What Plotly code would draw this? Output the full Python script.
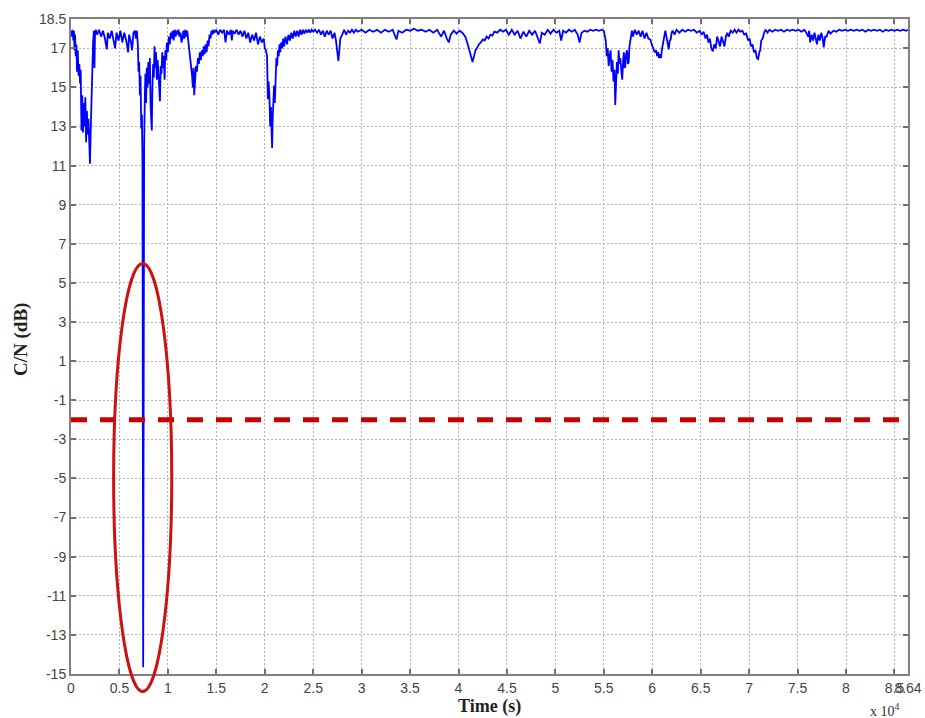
import plotly.graph_objects as go

# ---- time (x 10^4 s) and C/N (dB) samples, by segment ----
t_a = [0.000,0.008,0.016,0.024,0.030,0.036,0.042,0.048,0.056,0.062,0.070,0.078,0.086,0.094,0.100,0.108,0.116,0.124,0.132,0.140,0.148,0.156,0.164,0.172,0.180,0.188,0.196,0.204,0.212,0.220,0.228,0.236,0.242,0.248,0.256]
cn_a = [17.9,17.6,17.95,17.4,17.9,16.9,17.7,16.6,17.2,15.8,16.9,15.6,16.2,15.2,15.9,12.8,14.6,12.7,14.2,13.0,14.5,12.2,13.8,12.6,13.4,11.7,11.1,12.9,15.0,15.9,17.3,17.9,16.0,17.8,17.95]

t_b = [0.27,0.29,0.31,0.33,0.35,0.37,0.38,0.40,0.42,0.44,0.455,0.47,0.49,0.51,0.53,0.55,0.57,0.59,0.60,0.62,0.63,0.645,0.66,0.67,0.68]
cn_b = [17.7,17.95,17.6,17.9,17.5,16.95,17.8,17.5,17.9,17.4,17.0,17.8,17.4,17.9,17.3,17.8,17.4,16.8,17.7,17.3,16.9,17.8,17.9,17.5,17.9]

t_c = [0.69,0.697,0.704,0.711,0.718,0.725,0.732,0.738,0.745,0.750]
cn_c = [17.2,15.8,16.3,14.6,15.6,12.9,13.6,11.0,-14.66,8.7]

t_d = [0.755,0.762,0.768,0.775,0.782,0.790,0.798,0.806,0.814,0.822,0.828,0.834,0.840,0.848,0.855,0.862,0.870,0.878,0.886,0.894,0.902,0.910,0.918,0.926,0.934,0.942,0.950,0.958,0.966,0.974,0.982,0.990,1.000,1.010,1.020,1.030,1.040,1.050,1.060,1.070,1.080,1.090,1.100,1.110,1.120,1.130,1.140,1.150]
cn_d = [12.0,14.5,15.7,14.2,16.0,15.0,16.3,15.2,16.5,14.0,13.0,12.8,14.9,16.2,15.5,17.1,16.0,16.8,15.4,16.4,15.8,14.9,14.3,16.1,15.7,16.8,16.0,16.6,15.4,16.9,16.4,17.3,16.8,17.6,17.2,17.8,17.5,17.9,17.4,17.95,17.6,17.9,17.7,17.95,17.6,17.8,17.3,17.5]

t_e = [1.16,1.17,1.18,1.19,1.20,1.21,1.22,1.23,1.24,1.25,1.258,1.265,1.272,1.28,1.29,1.30,1.31,1.32,1.33,1.34,1.35,1.36,1.37,1.38,1.39,1.40,1.41,1.42,1.43,1.44,1.45,1.46,1.47,1.48,1.50]
cn_e = [17.9,17.5,17.95,17.6,17.9,17.4,17.0,16.6,16.0,15.6,15.0,16.0,14.6,15.4,16.1,15.8,16.5,16.2,16.8,16.4,16.9,16.6,17.1,16.7,17.2,16.8,17.4,17.1,17.7,17.5,17.9,17.7,17.95,17.8,17.95]

t_f = [1.52,1.54,1.56,1.58,1.595,1.61,1.63,1.65,1.66,1.67,1.69,1.71,1.73,1.75,1.77,1.79,1.81,1.83,1.85,1.87,1.89,1.91,1.93,1.95,1.97,1.99,2.00]
cn_f = [17.7,17.95,17.8,17.95,17.3,17.9,17.7,17.95,17.4,17.9,17.75,17.95,17.7,17.9,17.6,17.9,17.5,17.8,17.3,17.7,17.4,17.8,17.2,17.6,17.3,17.5,17.0]

t_g = [2.012,2.024,2.032,2.040,2.048,2.056,2.064,2.070,2.076,2.082,2.090,2.096,2.104,2.112,2.120,2.128,2.136,2.144,2.152,2.160,2.170,2.180,2.190,2.200,2.215,2.230,2.245,2.260,2.275,2.290,2.305,2.320,2.335,2.350,2.365,2.380,2.395,2.410,2.425,2.440,2.455,2.470,2.485,2.500,2.52,2.54,2.56,2.58,2.60,2.62,2.64,2.66,2.68,2.70,2.72,2.735,2.748,2.760,2.770,2.780,2.80,2.82,2.84,2.86,2.88,2.90,2.92,2.94]
cn_g = [16.9,16.6,14.4,15.3,14.6,13.0,14.0,12.8,11.9,13.4,14.3,15.1,14.2,15.8,16.5,16.1,16.9,16.6,17.2,16.8,17.3,17.0,17.5,17.1,17.6,17.2,17.7,17.4,17.8,17.5,17.9,17.6,17.9,17.6,17.95,17.7,17.95,17.75,17.95,17.8,17.95,17.8,17.95,17.85,17.95,17.8,17.95,17.7,17.9,17.6,17.9,17.7,17.9,17.5,17.8,17.4,16.9,16.35,16.9,17.5,17.7,17.95,17.7,17.9,17.8,17.95,17.8,17.95]

t_h = [2.96,3.00,3.04,3.08,3.12,3.16,3.20,3.24,3.28,3.32,3.36,3.38,3.42,3.46,3.50,3.54,3.58,3.62,3.66,3.70,3.74,3.78,3.82,3.85,3.88,3.90,3.92,3.95,3.98,4.01,4.04,4.07]
cn_h = [17.85,17.95,17.8,17.95,17.85,17.95,17.8,17.95,17.85,17.95,17.45,17.9,17.8,17.95,17.9,18.0,17.9,17.95,17.85,17.95,17.8,17.95,17.6,17.9,17.5,17.3,17.7,17.9,17.75,17.9,17.8,17.6]

t_i = [4.09,4.11,4.13,4.145,4.16,4.175,4.19,4.21,4.23,4.25,4.27,4.29,4.31,4.33,4.35,4.37,4.40,4.43,4.46,4.49]
cn_i = [17.3,16.9,16.6,16.3,16.6,16.9,17.0,17.2,17.3,17.45,17.4,17.6,17.5,17.7,17.65,17.85,17.8,17.95,17.85,17.95]

t_j = [4.52,4.55,4.58,4.61,4.64,4.67,4.70,4.73,4.76,4.79,4.82,4.84,4.86,4.89,4.92,4.95,4.98,5.01,5.04,5.06,5.08,5.11,5.14,5.17,5.20,5.23,5.25,5.27,5.30,5.33,5.36,5.39,5.42,5.45,5.48,5.50]
cn_j = [17.7,17.95,17.7,17.9,17.5,17.85,17.6,17.9,17.7,17.9,17.5,17.25,17.8,17.7,17.95,17.75,17.95,17.8,17.9,17.4,17.9,17.8,17.95,17.85,17.95,17.7,17.3,17.8,17.9,17.85,17.95,17.9,17.95,17.9,17.95,17.9]

t_k = [5.52,5.53,5.54,5.55,5.56,5.57,5.58,5.59,5.60,5.61,5.618,5.627,5.635,5.645,5.653,5.662,5.67,5.68,5.69,5.70,5.707,5.715,5.722,5.73,5.74,5.75,5.757,5.765,5.774,5.785,5.79,5.80,5.82,5.84,5.86,5.88,5.90,5.92]
cn_k = [17.4,16.6,17.0,16.1,16.6,16.9,15.8,16.4,15.3,15.9,14.1,15.6,16.3,15.7,16.9,16.2,16.5,15.9,15.4,16.4,16.8,16.0,16.1,16.7,16.9,16.2,16.3,17.1,17.4,17.7,17.9,17.6,17.95,17.7,17.9,17.6,17.9,17.5]

t_l = [5.94,5.96,5.98,5.995,6.01,6.025,6.04,6.05,6.06,6.07,6.08,6.09,6.10,6.11,6.12,6.135,6.15,6.16,6.17,6.18,6.19,6.20,6.21,6.23,6.25,6.28,6.31,6.34,6.37,6.40,6.43,6.46,6.49,6.51]
cn_l = [17.8,17.5,17.45,17.2,17.0,16.8,16.9,16.6,16.8,16.5,16.7,16.5,16.95,17.2,17.6,17.9,17.5,17.2,16.95,17.4,17.45,17.8,17.9,17.7,17.95,17.8,17.95,17.85,17.95,17.9,17.95,17.8,17.9,17.7]

t_m = [6.53,6.55,6.565,6.58,6.595,6.61,6.625,6.64,6.655,6.67,6.685,6.70,6.715,6.73,6.745,6.76,6.775,6.79,6.81,6.83,6.85,6.87,6.89,6.91,6.93,6.95,6.97,6.99,7.005,7.02,7.035,7.05,7.065,7.08,7.093,7.105,7.115,7.125,7.14,7.155,7.17,7.19,7.21,7.24,7.27,7.30,7.33,7.36,7.39,7.42,7.45,7.48,7.51,7.54,7.57]
cn_m = [17.85,17.5,17.7,17.3,17.5,17.0,16.85,17.2,17.0,17.6,17.3,17.1,17.6,17.4,17.1,17.6,17.8,17.6,17.9,17.8,17.95,17.8,17.95,17.85,17.9,17.7,17.75,17.4,17.5,17.1,17.2,16.8,16.9,16.5,16.45,16.8,16.9,17.4,17.5,17.8,17.95,17.8,17.95,17.85,17.95,17.9,17.95,17.85,17.95,17.9,17.95,17.9,17.95,17.85,17.95]

t_n = [7.59,7.61,7.62,7.63,7.645,7.66,7.675,7.69,7.70,7.715,7.73,7.745,7.76,7.77,7.785,7.80,7.82,7.84,7.87,7.90,7.93,7.96,7.99,8.02,8.05,8.08,8.11,8.14,8.17,8.20,8.23,8.26,8.29,8.32,8.35,8.38,8.41,8.44,8.47,8.50,8.53,8.56,8.59,8.62,8.64]
cn_n = [17.8,17.6,17.9,17.3,17.7,17.4,17.8,17.5,17.2,17.7,17.4,17.8,17.5,17.05,17.6,17.6,17.9,17.75,17.9,17.85,17.95,17.9,17.95,17.9,17.95,17.9,17.95,17.9,17.95,17.85,17.95,17.9,17.95,17.9,17.95,17.85,17.95,17.9,17.95,17.9,17.95,17.9,17.95,17.9,17.95]

# threshold (dB) and highlighted outage (ellipse) in data units
threshold_t = [0.0, 8.64]
threshold_cn = [-2.0, -2.0]
ell_center_t = 0.74
ell_half_width_t = 0.30
ell_top_cn = 6.0
ell_bottom_cn = -15.9

# axes
x_range = [0.0, 8.64]
y_range = [-15.0, 18.5]
x_tickvals = [0, 0.5, 1, 1.5, 2, 2.5, 3, 3.5, 4, 4.5, 5, 5.5, 6, 6.5, 7, 7.5, 8, 8.5, 8.64]
x_ticktext = ["0", "0.5", "1", "1.5", "2", "2.5", "3", "3.5", "4", "4.5", "5", "5.5", "6", "6.5", "7", "7.5", "8", "8.5", "8.64"]
y_tickvals = [-15, -13, -11, -9, -7, -5, -3, -1, 1, 3, 5, 7, 9, 11, 13, 15, 17, 18.5]
y_ticktext = ["-15", "-13", "-11", "-9", "-7", "-5", "-3", "-1", "1", "3", "5", "7", "9", "11", "13", "15", "17", "18.5"]

segs_t = [t_a, t_b, t_c, t_d, t_e, t_f, t_g, t_h, t_i, t_j, t_k, t_l, t_m, t_n]
segs_cn = [cn_a, cn_b, cn_c, cn_d, cn_e, cn_f, cn_g, cn_h, cn_i, cn_j, cn_k, cn_l, cn_m, cn_n]
t = []
cn = []
for st, sc in zip(segs_t, segs_cn):
    assert len(st) == len(sc), (st[0], len(st), len(sc))
    t.extend(st)
    cn.extend(sc)

fig = go.Figure()
fig.add_trace(go.Scatter(x=t, y=cn, mode="lines",
                         line=dict(color="#0000ff", width=1.8), showlegend=False))
fig.add_trace(go.Scatter(x=threshold_t, y=threshold_cn, mode="lines",
                         line=dict(color="#c80000", width=5, dash="16px,13px"), showlegend=False))

# ellipse in paper coordinates (so that it may extend below the axis like the reference)
def px_x(v):
    return (v - x_range[0]) / (x_range[1] - x_range[0])

def px_y(v):
    return (v - y_range[0]) / (y_range[1] - y_range[0])

fig.add_shape(type="circle", xref="paper", yref="paper",
              x0=px_x(ell_center_t - ell_half_width_t), x1=px_x(ell_center_t + ell_half_width_t),
              y0=px_y(ell_bottom_cn), y1=px_y(ell_top_cn),
              line=dict(color="#cc1111", width=3), layer="above")

tick_font = dict(family="Liberation Sans, Arial, sans-serif", size=14, color="#444444")
axis_common = dict(showline=True, linecolor="#808080", linewidth=2, mirror="ticks",
                   ticks="inside", ticklen=5, tickwidth=1.5, tickcolor="#707070",
                   showgrid=True, gridcolor="#b4b4b4", gridwidth=1, griddash="2px,2px",
                   zeroline=False, tickfont=tick_font, automargin=False, tickangle=0)

fig.update_xaxes(range=x_range, tickmode="array", tickvals=x_tickvals, ticktext=x_ticktext,
                 **axis_common)
fig.update_yaxes(range=y_range, tickmode="array", tickvals=y_tickvals, ticktext=y_ticktext,
                 **axis_common)

title_font = dict(family="Liberation Serif, Times New Roman, serif", size=18, color="#222222")
fig.add_annotation(text="<b>Time (s)</b>", xref="paper", yref="paper", x=0.5, y=-0.049,
                   xanchor="center", yanchor="middle", showarrow=False, font=title_font)
fig.add_annotation(text="<b>C/N (dB)</b>", xref="paper", yref="paper", x=-0.0597, y=0.51,
                   xanchor="center", yanchor="middle", textangle=-90, showarrow=False,
                   font=dict(family="Liberation Serif, Times New Roman, serif", size=19,
                             color="#222222"))
fig.add_annotation(text="x 10<sup>4</sup>", xref="paper", yref="paper", x=0.9725, y=-0.055,
                   xanchor="center", yanchor="middle", showarrow=False,
                   font=dict(family="Liberation Serif, Times New Roman, serif", size=14,
                             color="#333333"))

fig.update_layout(width=925, height=718,
                  margin=dict(l=71, r=17, t=19, b=44),
                  paper_bgcolor="white", plot_bgcolor="white")

fig.write_html("out.html", config={"displayModeBar": False},
               post_script="document.body.style.margin='0';document.body.style.overflow='hidden';")
